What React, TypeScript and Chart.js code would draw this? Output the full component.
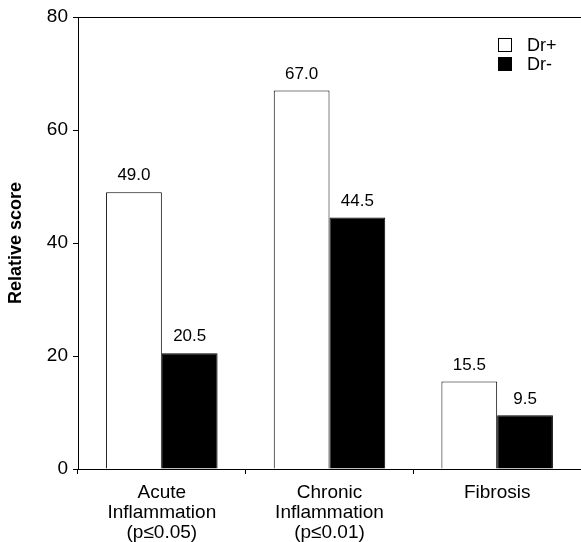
import React, { useEffect, useRef } from "react";
import { Chart, registerables } from "chart.js";

Chart.register(...registerables);

const categories: string[][] = [
  ["Acute", "Inflammation", "(p≤0.05)"],
  ["Chronic", "Inflammation", "(p≤0.01)"],
  ["Fibrosis"],
];
const drPlus = [49.0, 67.0, 15.5];
const drMinus = [20.5, 44.5, 9.5];
const yTicks = [0, 20, 40, 60, 80];
const seriesNames = ["Dr+", "Dr-"];

const FONT = "'Liberation Sans', Arial, Helvetica, sans-serif";

export default function App() {
  const ref = useRef<HTMLCanvasElement | null>(null);
  useEffect(() => {
    document.body.style.margin = "0";
    const canvas = ref.current!;
    const extras = {
      id: "extras",
      afterDraw(chart: any) {
        const ctx = chart.ctx;
        const { left, right, top } = chart.chartArea;
        ctx.save();
        // top border
        ctx.strokeStyle = "#000";
        ctx.lineWidth = 1;
        ctx.beginPath();
        ctx.moveTo(left, top + 0.5);
        ctx.lineTo(right, top + 0.5);
        ctx.stroke();
        // value labels
        ctx.fillStyle = "#000";
        ctx.font = `17px ${FONT}`;
        ctx.textAlign = "center";
        ctx.textBaseline = "bottom";
        chart.data.datasets.forEach((ds: any, i: number) => {
          const meta = chart.getDatasetMeta(i);
          meta.data.forEach((bar: any, j: number) => {
            ctx.fillText(ds.data[j].toFixed(1), bar.x, bar.y - 8);
          });
        });
        // legend
        const lx = 498;
        const ly = [45, 64];
        ctx.textAlign = "left";
        ctx.textBaseline = "middle";
        ctx.font = `18px ${FONT}`;
        seriesNames.forEach((name, i) => {
          const y = ly[i];
          if (i === 0) {
            ctx.fillStyle = "#fff";
            ctx.fillRect(lx, y - 7, 14, 14);
            ctx.strokeStyle = "#000";
            ctx.strokeRect(lx + 0.5, y - 6.5, 13, 13);
          } else {
            ctx.fillStyle = "#000";
            ctx.fillRect(lx, y - 7, 14, 14);
          }
          ctx.fillStyle = "#000";
          ctx.fillText(name, lx + 29, y + 1);
        });
        ctx.restore();
      },
    };
    const chart = new Chart(canvas, {
      type: "bar",
      data: {
        labels: categories,
        datasets: [
          {
            label: seriesNames[0],
            data: drPlus,
            backgroundColor: "#fff",
            borderColor: "#000",
            borderWidth: 1,
            barPercentage: 1,
            categoryPercentage: 0.665,
          },
          {
            label: seriesNames[1],
            data: drMinus,
            backgroundColor: "#000",
            borderColor: "#000",
            borderWidth: 1,
            barPercentage: 1,
            categoryPercentage: 0.665,
          },
        ],
      },
      options: {
        responsive: false,
        animation: false,
        layout: { padding: { top: 17, right: 0, left: 0, bottom: 0 } },
        plugins: { legend: { display: false }, tooltip: { enabled: false } },
        scales: {
          x: {
            grid: {
              drawOnChartArea: false,
              tickLength: 5,
              color: "#000",
            },
            border: { color: "#000", width: 1 },
            ticks: {
              color: "#000",
              font: { family: FONT, size: 19, lineHeight: 1.05 },
              padding: 9,
              maxRotation: 0,
              autoSkip: false,
            },
            afterFit(scale: any) {
              scale.height = 73;
            },
          },
          y: {
            min: 0,
            max: 80,
            afterBuildTicks(scale: any) {
              scale.ticks = yTicks.map((v) => ({ value: v }));
            },
            grid: {
              drawOnChartArea: false,
              tickLength: 5,
              color: "#000",
            },
            border: { color: "#000", width: 1 },
            ticks: {
              color: "#000",
              font: { family: FONT, size: 19 },
              padding: 5,
            },
            title: {
              display: true,
              text: "Relative score",
              color: "#000",
              font: { family: FONT, size: 18, weight: "bold" },
              padding: { top: 5, bottom: 4 },
            },
            afterFit(scale: any) {
              scale.width = 78;
            },
          },
        },
      },
      plugins: [extras],
    });
    return () => chart.destroy();
  }, []);
  return (
    <div style={{ width: 581, height: 542 }}>
      <canvas ref={ref} width={581} height={542} style={{ display: "block" }} />
    </div>
  );
}
